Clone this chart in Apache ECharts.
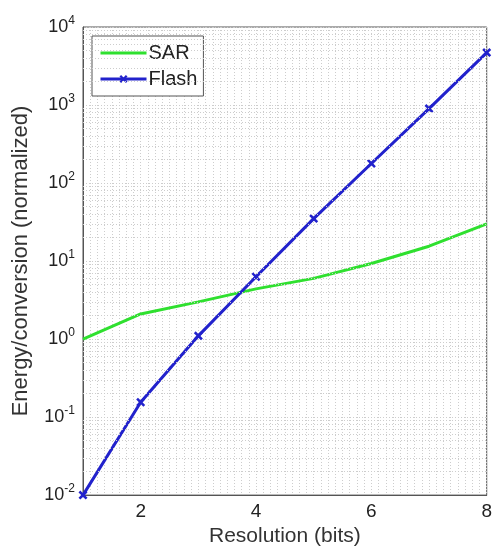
<!DOCTYPE html>
<html>
<head>
<meta charset="utf-8">
<script src="https://cdn.jsdelivr.net/npm/echarts@6/dist/echarts.min.js"></script>
<style>
  html, body { margin: 0; padding: 0; background: #fff; }
  #chart { width: 495px; height: 552px; }
</style>
</head>
<body>
<div id="chart"></div>
<script>
// resolution in bits
var bits = [1, 2, 3, 4, 5, 6, 7, 8]
// normalized energy per conversion
var sar = [1.0, 2.1, 3.0, 4.4, 6.0, 9.3, 15.5, 30]
var flash = [0.01, 0.155, 1.1, 6.3, 35, 178, 900, 4700]
// minor grid positions of the log axis
var minorY = []
for (var k = -2; k < 4; k++) {
  for (var m = 2; m <= 9; m++) minorY.push(m * Math.pow(10, k))
}

var font = 'Liberation Sans, Arial, Helvetica, sans-serif'
var dots = { color: '#cdcdcd', type: [1, 2], width: 1 }

var chart = echarts.init(document.getElementById('chart'))
chart.setOption({
  animation: false,
  textStyle: { fontFamily: font, color: '#222' },
  grid: {
    left: 83, right: 3, top: 27, bottom: 55,
    show: true, borderColor: '#555', borderWidth: 1
  },
  legend: {
    orient: 'vertical',
    left: 92, top: 36,
    padding: [7, 6, 7, 7],
    itemGap: 6,
    itemWidth: 46,
    itemHeight: 10,
    borderColor: '#555', borderWidth: 1,
    backgroundColor: '#fff',
    lineStyle: { width: 3 },
    textStyle: { fontSize: 20, color: '#222', fontFamily: font, padding: [0, 0, 0, -3] },
    data: [
      { name: 'SAR', itemStyle: { opacity: 0 } },
      { name: 'Flash' }
    ]
  },
  xAxis: {
    type: 'value',
    min: 1, max: 8, interval: 1,
    name: 'Resolution (bits)',
    nameLocation: 'middle',
    nameGap: 29,
    nameTextStyle: { fontSize: 21, color: '#333' },
    axisLine: { lineStyle: { color: '#555' } },
    axisTick: { show: false },
    axisLabel: {
      fontSize: 19, color: '#222', margin: 7,
      formatter: function (v) { return v % 2 === 0 ? String(v) : '' }
    },
    splitLine: { show: true, lineStyle: dots },
    minorTick: { show: false, splitNumber: 8 },
    minorSplitLine: { show: true, lineStyle: dots }
  },
  yAxis: {
    type: 'log',
    logBase: 10,
    min: 0.01, max: 10000,
    name: 'Energy/conversion (normalized)',
    nameLocation: 'middle',
    nameGap: 51,
    nameRotate: 90,
    nameTextStyle: { fontSize: 22, color: '#333' },
    axisLine: { lineStyle: { color: '#555' } },
    axisTick: { show: false },
    axisLabel: {
      margin: 8,
      formatter: function (v) {
        return '{b|10}{s|' + Math.round(Math.log10(v)) + '}'
      },
      rich: {
        b: { fontSize: 18, color: '#222', fontFamily: font },
        s: { fontSize: 12, color: '#222', fontFamily: font, padding: [0, 0, 12, 0] }
      }
    },
    splitLine: { show: true, lineStyle: dots }
  },
  series: [
    {
      name: 'SAR',
      type: 'line',
      data: bits.map(function (b, i) { return [b, sar[i]] }),
      showSymbol: false,
      symbol: 'none',
      lineStyle: { color: '#2fe02f', width: 3 },
      itemStyle: { color: '#2fe02f' },
      markLine: {
        silent: true,
        symbol: 'none',
        label: { show: false },
        lineStyle: dots,
        data: minorY.map(function (y) { return { yAxis: y } })
      },
      z: 3
    },
    {
      name: 'Flash',
      type: 'line',
      data: bits.map(function (b, i) { return [b, flash[i]] }),
      symbol: 'path://M0,2L2,0L5,3L8,0L10,2L7,5L10,8L8,10L5,7L2,10L0,8L3,5Z',
      symbolSize: 9,
      lineStyle: { color: '#2222cc', width: 3 },
      itemStyle: { color: '#2222cc' },
      z: 4
    }
  ]
})
</script>
</body>
</html>
